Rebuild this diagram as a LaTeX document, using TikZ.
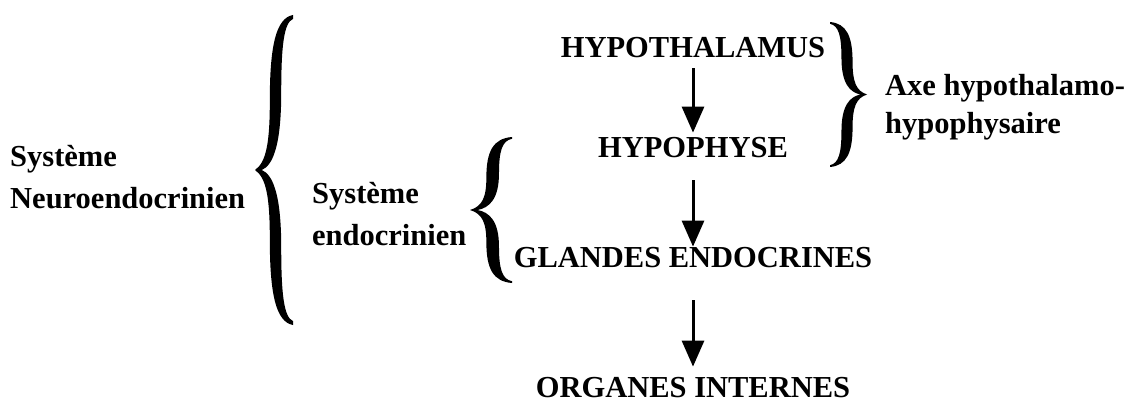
\documentclass[tikz,border=0pt]{standalone}
\usepackage{fontspec}
\setmainfont{Liberation Serif}
\usetikzlibrary{arrows.meta}

\begin{document}
\begin{tikzpicture}[
	x=1pt, y=1pt,
	organ/.style={inner sep=0pt, anchor=base, font=\bfseries\fontsize{30.5}{42}\selectfont},
	side/.style={inner sep=0pt, anchor=base west, align=left, font=\bfseries\fontsize{30.5}{42}\selectfont},
	arrow/.style={-{Triangle[length=26pt, width=22pt]}, line width=3pt},
	lbrace/.pic={
		\fill (0,0) .. controls (0.3,0.05) and (0.39,0.18) .. (0.39,0.45)
			.. controls (0.39,0.8) and (0.55,0.98) .. (1,1)
			-- (1,0.975) .. controls (0.76,0.95) and (0.69,0.8) .. (0.69,0.5)
			.. controls (0.69,0.15) and (0.46,0.03) .. (0.18,0)
			.. controls (0.46,-0.03) and (0.69,-0.15) .. (0.69,-0.5)
			.. controls (0.69,-0.8) and (0.76,-0.95) .. (1,-0.975)
			-- (1,-1) .. controls (0.55,-0.98) and (0.39,-0.8) .. (0.39,-0.45)
			.. controls (0.39,-0.18) and (0.3,-0.05) .. (0,0) -- cycle;
	}
]
\useasboundingbox (0,0) rectangle (1127,413);
\node (hypothal) [organ] at (693,355) {HYPOTHALAMUS};
\node (hypophyse) [organ] at (693,255) {HYPOPHYSE};
\node (glandes) [organ] at (693,146) {GLANDES ENDOCRINES};
\node (organes) [organ] at (693,16) {ORGANES INTERNES};
\node (neuro) [side] at (10,205) {Système\\Neuroendocrinien};
\node (endo) [side] at (312,168) {Système\\endocrinien};
\node (axe) [side, font=\bfseries\fontsize{30.5}{38}\selectfont] at (885,279) {Axe hypothalamo-\\hypophysaire};
% accolades
\pic [xscale=38, yscale=155] at (255,243) {lbrace};
\pic [xscale=42, yscale=73] at (470,203) {lbrace};
\pic [xscale=-37, yscale=72.5] at (867,318.5) {lbrace};
\draw [arrow] ([yshift=-10pt]hypothal.south) -- ([yshift=5pt]hypophyse.north);
\draw [arrow] ([yshift=-22pt]hypophyse.south) -- (glandes.north);
\draw [arrow] ([yshift=-33pt]glandes.south) -- ([yshift=10pt]organes.north);
\end{tikzpicture}
\end{document}
